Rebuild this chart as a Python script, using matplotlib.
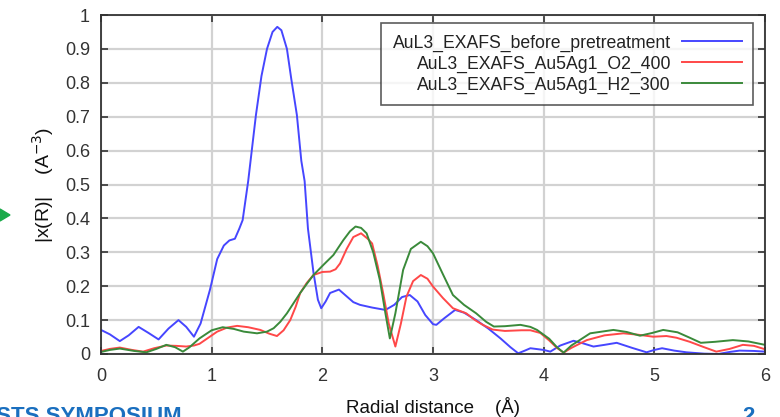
import matplotlib
matplotlib.use("Agg")
import matplotlib.pyplot as plt
from matplotlib.patches import Polygon

plt.rcParams['font.family'] = ['Liberation Sans', 'DejaVu Sans']

labels = ["AuL3_EXAFS_before_pretreatment", "AuL3_EXAFS_Au5Ag1_O2_400", "AuL3_EXAFS_Au5Ag1_H2_300"]

blue_r = [0.00, 0.08, 0.17, 0.25, 0.34, 0.43, 0.52, 0.61, 0.70, 0.77, 0.84, 0.90, 0.985, 1.05, 1.11, 1.16,
          1.21, 1.25, 1.28, 1.33, 1.40, 1.45, 1.50, 1.55, 1.593, 1.63, 1.68, 1.72, 1.77, 1.81, 1.84, 1.87,
          1.92, 1.96, 1.99, 2.03, 2.07, 2.15, 2.22, 2.28, 2.34, 2.45, 2.57, 2.65, 2.72, 2.79, 2.86, 2.93,
          3.00, 3.03, 3.10, 3.20, 3.28, 3.39, 3.50, 3.61, 3.70, 3.77, 3.83, 3.88, 4.00, 4.06, 4.15, 4.27,
          4.35, 4.45, 4.55, 4.66, 4.80, 4.93, 5.00, 5.07, 5.18, 5.29, 5.45, 5.58, 5.68, 5.77, 5.90, 6.00]
blue_y = [0.071, 0.058, 0.038, 0.055, 0.080, 0.062, 0.043, 0.075, 0.100, 0.080, 0.051, 0.090, 0.19, 0.28, 0.32, 0.335,
          0.34, 0.37, 0.395, 0.51, 0.705, 0.82, 0.90, 0.95, 0.965, 0.955, 0.90, 0.81, 0.705, 0.57, 0.51, 0.37,
          0.24, 0.16, 0.135, 0.155, 0.18, 0.19, 0.17, 0.153, 0.145, 0.137, 0.13, 0.145, 0.168, 0.174, 0.155, 0.115,
          0.088, 0.086, 0.105, 0.13, 0.122, 0.10, 0.075, 0.046, 0.02, 0.002, 0.010, 0.017, 0.012, 0.007, 0.025, 0.039,
          0.032, 0.022, 0.027, 0.033, 0.018, 0.005, 0.012, 0.017, 0.010, 0.005, 0.001, 0.0, 0.006, 0.010, 0.009, 0.007]

red_r = [0.00, 0.08, 0.17, 0.28, 0.38, 0.48, 0.59, 0.68, 0.77, 0.84, 0.89, 0.97, 1.05, 1.14, 1.23, 1.33,
         1.44, 1.52, 1.59, 1.65, 1.71, 1.76, 1.80, 1.86, 1.92, 2.00, 2.07, 2.12, 2.16, 2.22, 2.28, 2.35,
         2.41, 2.45, 2.50, 2.55, 2.60, 2.66, 2.71, 2.76, 2.82, 2.89, 2.95, 3.00, 3.09, 3.18, 3.30, 3.38,
         3.45, 3.54, 3.65, 3.80, 3.88, 3.97, 4.05, 4.12, 4.18, 4.25, 4.39, 4.55, 4.72, 4.85, 4.99, 5.11,
         5.20, 5.32, 5.45, 5.56, 5.68, 5.80, 5.90, 6.00]
red_y = [0.009, 0.015, 0.019, 0.012, 0.007, 0.017, 0.025, 0.024, 0.022, 0.025, 0.030, 0.048, 0.066, 0.078, 0.083, 0.079,
         0.071, 0.060, 0.053, 0.07, 0.10, 0.14, 0.18, 0.21, 0.233, 0.242, 0.243, 0.25, 0.267, 0.31, 0.345, 0.356,
         0.34, 0.326, 0.26, 0.179, 0.09, 0.022, 0.09, 0.169, 0.215, 0.233, 0.222, 0.199, 0.165, 0.135, 0.12, 0.10,
         0.086, 0.072, 0.068, 0.070, 0.070, 0.062, 0.040, 0.018, 0.004, 0.018, 0.041, 0.055, 0.061, 0.057, 0.051, 0.053,
         0.048, 0.036, 0.02, 0.007, 0.015, 0.027, 0.024, 0.014]

green_r = [0.00, 0.08, 0.17, 0.30, 0.41, 0.50, 0.59, 0.67, 0.74, 0.80, 0.89, 1.00, 1.10, 1.20, 1.29, 1.41,
           1.50, 1.56, 1.62, 1.68, 1.74, 1.80, 1.86, 1.92, 2.01, 2.10, 2.19, 2.25, 2.30, 2.35, 2.40, 2.46,
           2.52, 2.57, 2.61, 2.66, 2.73, 2.80, 2.89, 2.95, 3.00, 3.09, 3.18, 3.28, 3.39, 3.48, 3.55, 3.65,
           3.79, 3.88, 3.94, 4.05, 4.12, 4.18, 4.25, 4.42, 4.63, 4.75, 4.87, 4.98, 5.08, 5.21, 5.32, 5.42,
           5.55, 5.71, 5.85, 6.00]
green_y = [0.006, 0.012, 0.016, 0.009, 0.005, 0.015, 0.027, 0.02, 0.007, 0.02, 0.046, 0.07, 0.079, 0.074, 0.066, 0.061,
           0.066, 0.076, 0.095, 0.12, 0.15, 0.18, 0.207, 0.233, 0.263, 0.292, 0.336, 0.362, 0.376, 0.372, 0.356, 0.30,
           0.218, 0.12, 0.046, 0.12, 0.248, 0.31, 0.331, 0.318, 0.297, 0.235, 0.174, 0.145, 0.12, 0.095, 0.081, 0.082,
           0.086, 0.080, 0.071, 0.045, 0.02, 0.004, 0.025, 0.061, 0.071, 0.065, 0.054, 0.062, 0.071, 0.064, 0.048, 0.033,
           0.036, 0.041, 0.037, 0.027]

x_ticks = [0, 1, 2, 3, 4, 5, 6]
y_ticks = [0, 0.1, 0.2, 0.3, 0.4, 0.5, 0.6, 0.7, 0.8, 0.9, 1]
y_ticklabels = ["0", "0.1", "0.2", "0.3", "0.4", "0.5", "0.6", "0.7", "0.8", "0.9", "1"]

W, H = 780, 417
fig = plt.figure(figsize=(W / 100, H / 100), dpi=100)
ax = fig.add_axes([101 / W, 1 - 354 / H, (765 - 101) / W, (354 - 15) / H])

ax.plot(blue_r, blue_y, color='#4646ff', lw=1.4, label=labels[0])
ax.plot(red_r, red_y, color='#ff4848', lw=1.4, label=labels[1])
ax.plot(green_r, green_y, color='#3a8a3a', lw=1.4, label=labels[2])

ax.set_xlim(0, 6)
ax.set_ylim(0, 1)
ax.set_xticks(x_ticks)
ax.set_xticklabels([str(t) for t in x_ticks])
ax.set_yticks(y_ticks)
ax.set_yticklabels(y_ticklabels)
ax.grid(True, color='#d2d2d2', lw=1.6)
ax.set_axisbelow(True)
for s in ax.spines.values():
    s.set_color('#333333')
    s.set_linewidth(1.3)
ax.tick_params(direction='in', length=5, width=1.2, color='#333333',
               top=True, right=True, labelsize=13, labelcolor='#333333')
ax.tick_params(axis='x', pad=10)
ax.tick_params(axis='y', pad=8)

ax.set_xlabel("Radial distance    (Å)", fontsize=13.5, color='#111111', labelpad=9)
ax.set_ylabel("|x(R)|    (A$^{-3}$)", fontsize=14, color='#111111')
ax.yaxis.set_label_coords(-0.068, 0.5)

leg = ax.legend(loc='upper right', bbox_to_anchor=((753 - 101) / (765 - 101), 1 - 8 / 339),
                markerfirst=False, fontsize=12.7, frameon=True, fancybox=False,
                handlelength=3.4, handletextpad=0.6, labelspacing=0.22,
                borderpad=0.65, borderaxespad=0)
leg.get_frame().set_edgecolor('#333333')
leg.get_frame().set_linewidth(1.2)
for t in leg.get_texts():
    t.set_color('#222222')

fig.patches.append(Polygon([[0 / W, 1 - 209 / H], [0 / W, 1 - 221 / H], [10 / W, 1 - 215 / H]],
                           closed=True, transform=fig.transFigure, color='#1aaa4a'))
fig.text(-10 / W, -0.012, "ISTS SYMPOSIUM", color='#1a6fbf', fontsize=16, fontweight='bold')
fig.text(742 / W, -0.012, "2", color='#1a6fbf', fontsize=16, fontweight='bold')

fig.savefig("out.png", dpi=100)
